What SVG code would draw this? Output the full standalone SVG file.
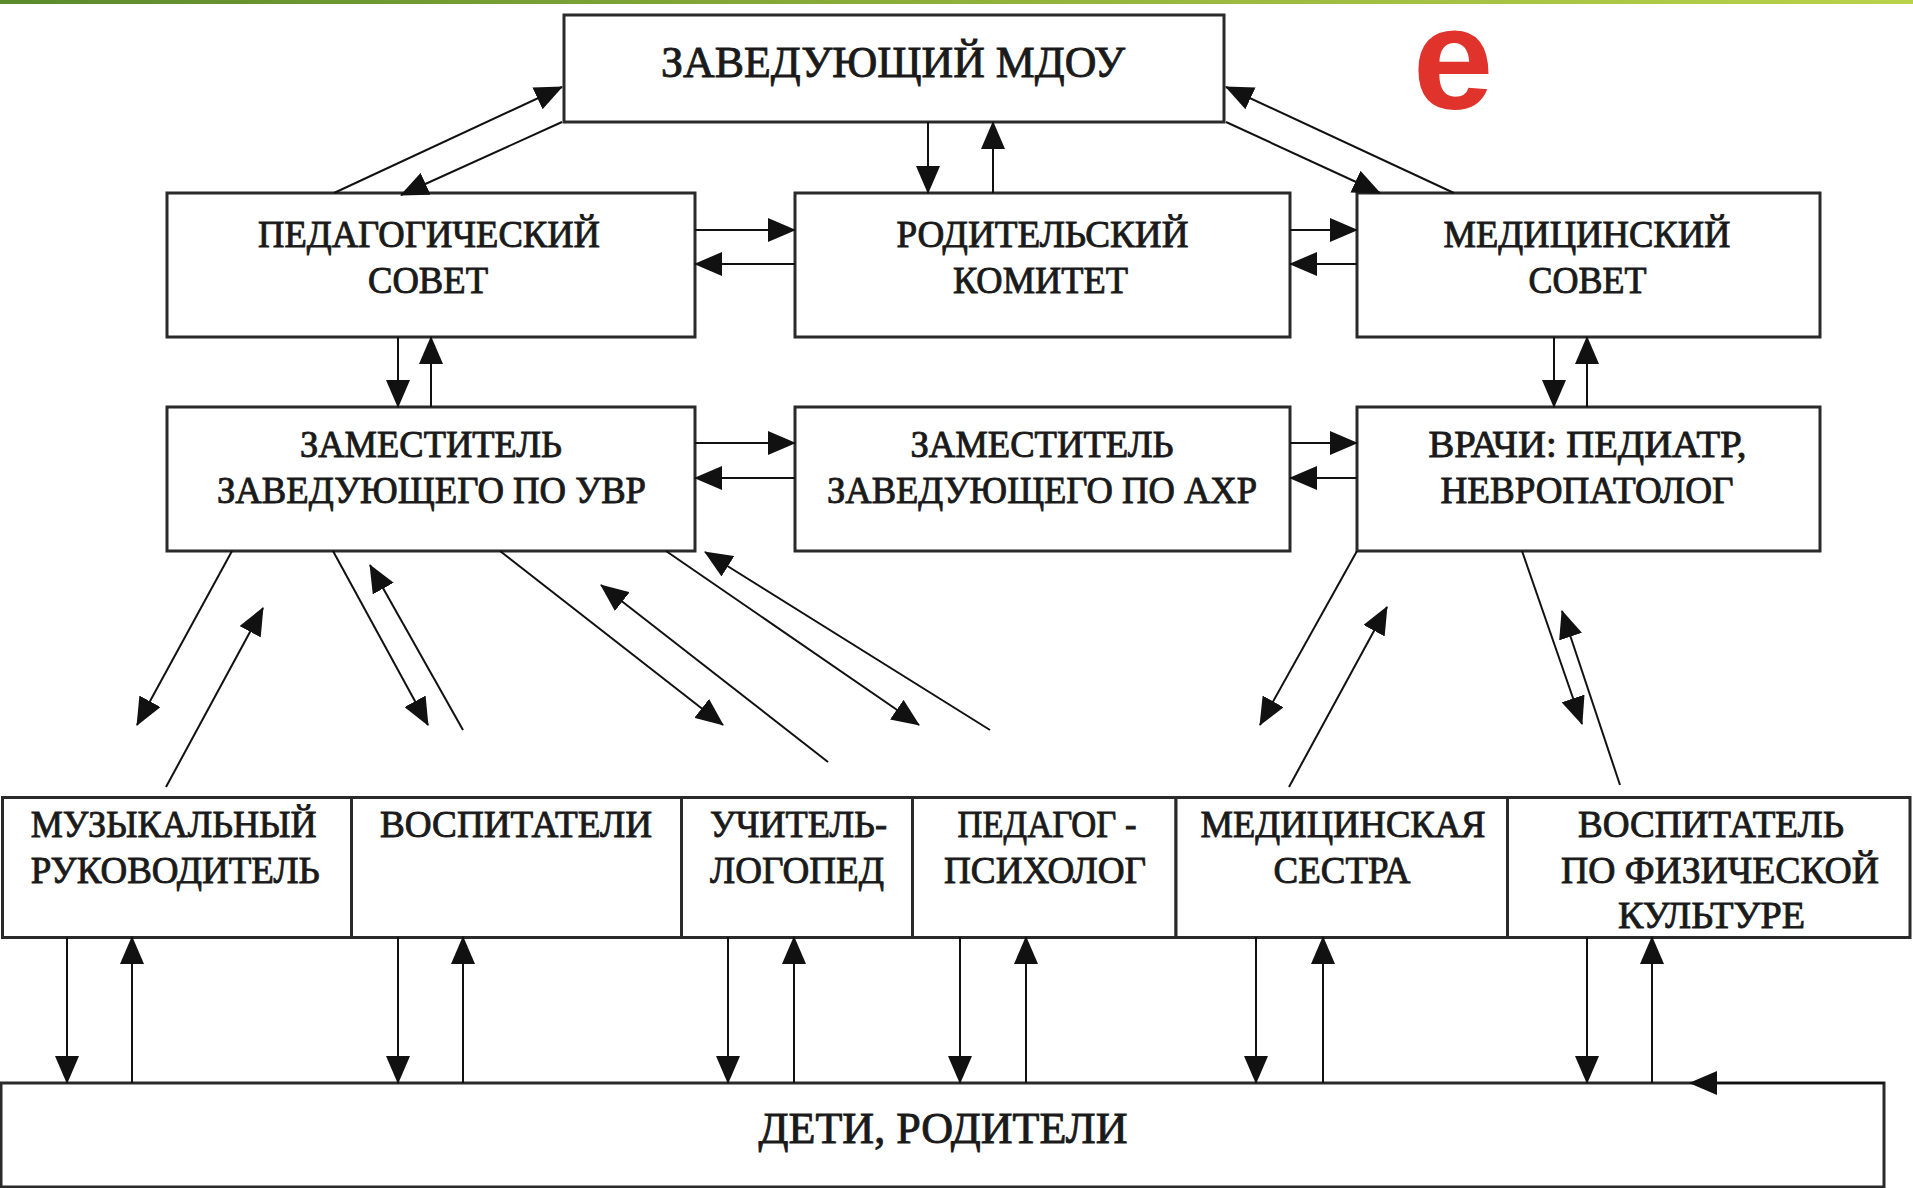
<svg xmlns="http://www.w3.org/2000/svg" width="1913" height="1188" viewBox="0 0 1913 1188">
<defs>
<linearGradient id="strip" x1="0" x2="1" y1="0" y2="0">
<stop offset="0" stop-color="#5a8a2c"/>
<stop offset="0.5" stop-color="#8fb03a"/>
<stop offset="1" stop-color="#b9d24a"/>
</linearGradient>
<marker id="ah" markerUnits="userSpaceOnUse" markerWidth="28" markerHeight="24" refX="27" refY="12" orient="auto" viewBox="0 0 28 24">
<path d="M0,0 L28,12 L0,24 z" fill="#111"/>
</marker>
</defs>
<style>
.box{fill:#fff;stroke:#2a2a2a;stroke-width:3}
.t{font-family:"Liberation Serif","Times New Roman",serif;fill:#1a1a1a;stroke:#1a1a1a;stroke-width:0.9;text-anchor:middle}
.s37{font-size:37px}
.s38{font-size:38px}
#connectors line{stroke:#111;stroke-width:2;marker-end:url(#ah)}
</style>
<rect x="0" y="0" width="1913" height="1188" fill="#fff"/>
<rect x="0" y="0" width="1913" height="4" fill="url(#strip)"/>
<text x="1453" y="109" font-family="'Liberation Sans',Arial,sans-serif" font-weight="bold" font-size="145" fill="#e0332b" text-anchor="middle">e</text>

<g id="zav">
<rect class="box" x="564" y="15" width="660" height="107"/>
<text class="t" x="893" y="76.5" font-size="45" textLength="464" lengthAdjust="spacingAndGlyphs">ЗАВЕДУЮЩИЙ МДОУ</text>
</g>
<g id="ped-sovet">
<rect class="box" x="167" y="193" width="528" height="144"/>
<text class="t s37" x="429" y="246.5" textLength="342" lengthAdjust="spacingAndGlyphs">ПЕДАГОГИЧЕСКИЙ</text>
<text class="t s37" x="428" y="293" textLength="120" lengthAdjust="spacingAndGlyphs">СОВЕТ</text>
</g>
<g id="rod-komitet">
<rect class="box" x="795" y="193" width="495" height="144"/>
<text class="t s37" x="1042.5" y="246.5" textLength="292" lengthAdjust="spacingAndGlyphs">РОДИТЕЛЬСКИЙ</text>
<text class="t s37" x="1040.5" y="293" textLength="175" lengthAdjust="spacingAndGlyphs">КОМИТЕТ</text>
</g>
<g id="med-sovet">
<rect class="box" x="1357" y="193" width="463" height="144"/>
<text class="t s37" x="1587" y="246.5" textLength="287" lengthAdjust="spacingAndGlyphs">МЕДИЦИНСКИЙ</text>
<text class="t s37" x="1587.5" y="293" textLength="118" lengthAdjust="spacingAndGlyphs">СОВЕТ</text>
</g>
<g id="zam-uvr">
<rect class="box" x="167" y="407" width="528" height="144"/>
<text class="t s37" x="431" y="457" textLength="262" lengthAdjust="spacingAndGlyphs">ЗАМЕСТИТЕЛЬ</text>
<text class="t s37" x="431.5" y="503" textLength="429" lengthAdjust="spacingAndGlyphs">ЗАВЕДУЮЩЕГО ПО УВР</text>
</g>
<g id="zam-ahr">
<rect class="box" x="795" y="407" width="495" height="144"/>
<text class="t s37" x="1042" y="457" textLength="263" lengthAdjust="spacingAndGlyphs">ЗАМЕСТИТЕЛЬ</text>
<text class="t s37" x="1042" y="503" textLength="430" lengthAdjust="spacingAndGlyphs">ЗАВЕДУЮЩЕГО ПО АХР</text>
</g>
<g id="vrachi">
<rect class="box" x="1357" y="407" width="463" height="144"/>
<text class="t s37" x="1587.5" y="457" textLength="318" lengthAdjust="spacingAndGlyphs">ВРАЧИ: ПЕДИАТР,</text>
<text class="t s37" x="1587" y="503" textLength="293" lengthAdjust="spacingAndGlyphs">НЕВРОПАТОЛОГ</text>
</g>

<g id="muz-ruk">
<rect class="box" x="2.5" y="797.5" width="349" height="140"/>
<text class="t s38" x="173.7" y="836.5" textLength="286" lengthAdjust="spacingAndGlyphs">МУЗЫКАЛЬНЫЙ</text>
<text class="t s38" x="175.3" y="883" textLength="289" lengthAdjust="spacingAndGlyphs">РУКОВОДИТЕЛЬ</text>
</g>
<g id="vospitateli">
<rect class="box" x="351.5" y="797.5" width="330" height="140"/>
<text class="t s38" x="516" y="836.5" textLength="272" lengthAdjust="spacingAndGlyphs">ВОСПИТАТЕЛИ</text>
</g>
<g id="logoped">
<rect class="box" x="681.5" y="797.5" width="231" height="140"/>
<text class="t s38" x="798.5" y="836.5" textLength="177" lengthAdjust="spacingAndGlyphs">УЧИТЕЛЬ-</text>
<text class="t s38" x="797" y="883" textLength="174" lengthAdjust="spacingAndGlyphs">ЛОГОПЕД</text>
</g>
<g id="psiholog">
<rect class="box" x="912.5" y="797.5" width="263.5" height="140"/>
<text class="t s38" x="1047" y="836.5" textLength="179" lengthAdjust="spacingAndGlyphs">ПЕДАГОГ -</text>
<text class="t s38" x="1045" y="883" textLength="202" lengthAdjust="spacingAndGlyphs">ПСИХОЛОГ</text>
</g>
<g id="med-sestra">
<rect class="box" x="1176" y="797.5" width="331.5" height="140"/>
<text class="t s38" x="1343" y="836.5" textLength="285" lengthAdjust="spacingAndGlyphs">МЕДИЦИНСКАЯ</text>
<text class="t s38" x="1342" y="883" textLength="137" lengthAdjust="spacingAndGlyphs">СЕСТРА</text>
</g>
<g id="fizkult">
<rect class="box" x="1507.5" y="797.5" width="402.5" height="140"/>
<text class="t s38" x="1711" y="836.5" textLength="266" lengthAdjust="spacingAndGlyphs">ВОСПИТАТЕЛЬ</text>
<text class="t s38" x="1720" y="883" textLength="318" lengthAdjust="spacingAndGlyphs">ПО ФИЗИЧЕСКОЙ</text>
<text class="t s38" x="1711.5" y="928" textLength="187" lengthAdjust="spacingAndGlyphs">КУЛЬТУРЕ</text>
</g>
<g id="deti">
<rect class="box" x="1" y="1083" width="1883" height="104"/>
<text class="t" x="943" y="1143" font-size="44" textLength="369" lengthAdjust="spacingAndGlyphs">ДЕТИ, РОДИТЕЛИ</text>
</g>

<g id="connectors">
<line x1="334" y1="193" x2="562" y2="87"/>
<line x1="562" y1="122" x2="401" y2="195"/>
<line x1="928" y1="122" x2="928" y2="193"/>
<line x1="993" y1="193" x2="993" y2="122"/>
<line x1="1226" y1="122" x2="1380" y2="193"/>
<line x1="1454" y1="193" x2="1226" y2="87"/>
<line x1="695" y1="230" x2="795" y2="230"/>
<line x1="795" y1="264" x2="695" y2="264"/>
<line x1="1290" y1="230" x2="1357" y2="230"/>
<line x1="1357" y1="264" x2="1290" y2="264"/>
<line x1="398" y1="337" x2="398" y2="407"/>
<line x1="431" y1="407" x2="431" y2="337"/>
<line x1="1554" y1="337" x2="1554" y2="407"/>
<line x1="1587" y1="407" x2="1587" y2="337"/>
<line x1="695" y1="443" x2="795" y2="443"/>
<line x1="795" y1="478" x2="695" y2="478"/>
<line x1="1290" y1="443" x2="1357" y2="443"/>
<line x1="1357" y1="478" x2="1290" y2="478"/>
<line x1="232" y1="551" x2="137" y2="725"/>
<line x1="166" y1="787" x2="263" y2="608"/>
<line x1="333" y1="551" x2="428" y2="725"/>
<line x1="463" y1="730" x2="370" y2="565"/>
<line x1="500" y1="551" x2="723" y2="725"/>
<line x1="828" y1="762" x2="601" y2="585"/>
<line x1="666" y1="551" x2="919" y2="725"/>
<line x1="990" y1="730" x2="705" y2="552"/>
<line x1="1357" y1="551" x2="1260" y2="725"/>
<line x1="1289" y1="787" x2="1387" y2="607"/>
<line x1="1522" y1="551" x2="1582" y2="724"/>
<line x1="1620" y1="785" x2="1562" y2="611"/>
<line x1="67" y1="937" x2="67" y2="1083"/>
<line x1="132" y1="1083" x2="132" y2="937"/>
<line x1="398" y1="937" x2="398" y2="1083"/>
<line x1="463" y1="1083" x2="463" y2="937"/>
<line x1="728" y1="937" x2="728" y2="1083"/>
<line x1="794" y1="1083" x2="794" y2="937"/>
<line x1="960" y1="937" x2="960" y2="1083"/>
<line x1="1026" y1="1083" x2="1026" y2="937"/>
<line x1="1256" y1="937" x2="1256" y2="1083"/>
<line x1="1323" y1="1083" x2="1323" y2="937"/>
<line x1="1587" y1="937" x2="1587" y2="1083"/>
<line x1="1652" y1="1083" x2="1652" y2="937"/>
<line x1="1884" y1="1083" x2="1690" y2="1083"/>
</g>
</svg>
